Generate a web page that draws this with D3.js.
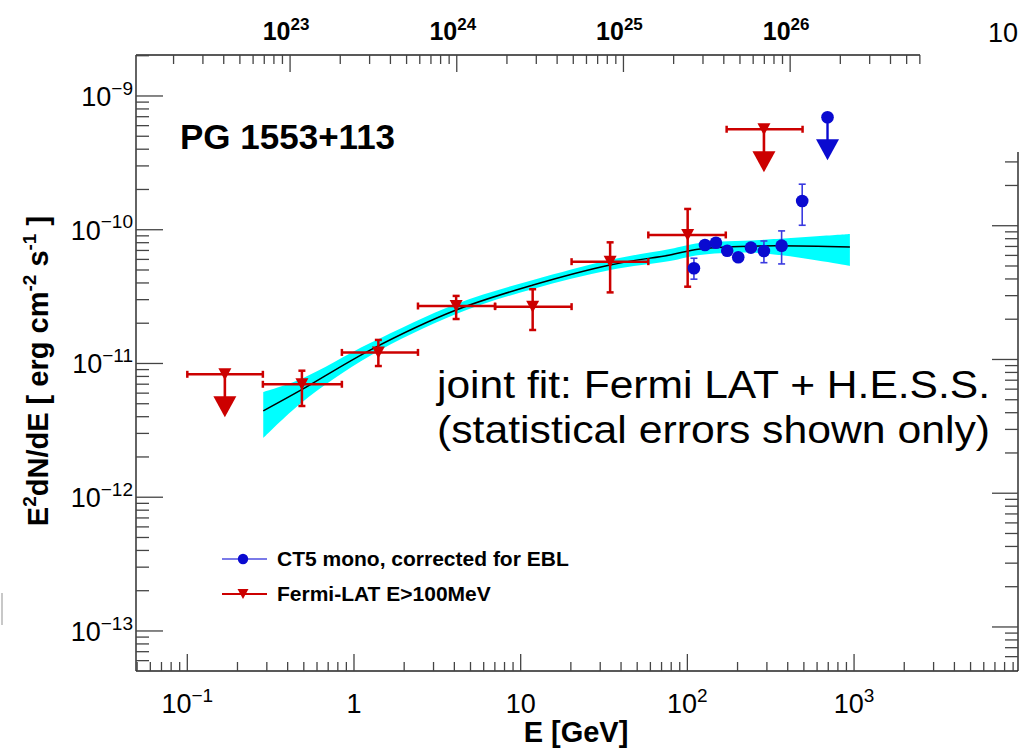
<!DOCTYPE html>
<html><head><meta charset="utf-8">
<script src="https://cdn.jsdelivr.net/npm/d3@7"></script>
<style>
html,body{margin:0;padding:0;background:#fff;}
svg{display:block;font-family:"Liberation Sans",Arial,Helvetica,sans-serif;}
</style></head><body>
<svg id="chart" width="1019" height="748"></svg>
<script>
// ---- Fermi-LAT (E > 100 MeV): energy bins in GeV, E^2 dN/dE in erg cm^-2 s^-1
const fermiE   = [0.168, 0.487, 1.40, 4.10, 11.8, 34.4, 100.4, 288];
const fermiElo = [0.100, 0.284, 0.846, 2.42, 7.02, 20.2, 58.3, 172];
const fermiEhi = [0.284, 0.846, 2.42, 7.02, 20.2, 58.3, 170, 491];
const fermiF   = [8.3e-12, 6.99e-12, 1.21e-11, 2.69e-11, 2.66e-11, 5.77e-11, 9.14e-11, 5.64e-10];
const fermiFlo = [null, 4.81e-12, 9.57e-12, 2.15e-11, 1.78e-11, 3.40e-11, 3.75e-11, null];
const fermiFhi = [null, 8.83e-12, 1.50e-11, 3.20e-11, 3.59e-11, 8.05e-11, 1.43e-10, null];
const fermiUL  = [true, false, false, false, false, false, false, true];

// ---- H.E.S.S. CT5 mono, EBL corrected
const hessE   = [109.5, 127.5, 148.4, 173.4, 201.9, 240.6, 287.9, 367.6, 488.5, 693];
const hessF   = [5.15e-11, 7.69e-11, 8.0e-11, 6.97e-11, 6.22e-11, 7.35e-11, 6.93e-11, 7.60e-11, 1.64e-10, 6.93e-10];
const hessFlo = [4.27e-11, 7.3e-11, 7.6e-11, 6.6e-11, 5.9e-11, 6.95e-11, 5.67e-11, 5.55e-11, 1.08e-10, null];
const hessFhi = [6.12e-11, 8.1e-11, 8.4e-11, 7.35e-11, 6.55e-11, 7.75e-11, 8.24e-11, 9.80e-11, 2.19e-10, null];
const hessUL  = [false, false, false, false, false, false, false, false, false, true];

// ---- joint fit curve with its statistical band
const fitE  = [0.2855, 0.4826, 1.25, 4.10, 11.87, 34.4, 78.6, 119, 272, 944];
const fitF  = [4.42e-12, 6.34e-12, 1.26e-11, 2.51e-11, 3.86e-11, 5.45e-11, 6.48e-11, 7.18e-11, 7.56e-11, 7.43e-11];
const fitLo = [2.77e-12, 5.07e-12, 1.14e-11, 2.34e-11, 3.61e-11, 5.00e-11, 5.83e-11, 6.47e-11, 6.70e-11, 5.36e-11];
const fitHi = [6.12e-12, 7.66e-12, 1.42e-11, 2.79e-11, 4.21e-11, 5.94e-11, 7.18e-11, 7.96e-11, 8.38e-11, 9.29e-11];

// ---- axis labels
const xTickVals  = [0.1, 1, 10, 100, 1000];
const xTickBase  = ["10", "1", "10", "10", "10"];
const xTickExp   = ["\u22121", "", "", "2", "3"];
const yTickVals  = [1e-9, 1e-10, 1e-11, 1e-12, 1e-13];
const yTickExp   = ["\u22129", "\u221210", "\u221211", "\u221212", "\u221213"];
const topTickVals = [1e23, 1e24, 1e25, 1e26];
const topTickExp  = ["23", "24", "25", "26"];
const GEV_TO_HZ = 2.418e23;

const RED = "#cc0000", BLUE = "#0a0ad0", BLUE_ERR = "#3a3ae0";

const svg = d3.select("#chart");
const L = 136, R = 1018, T = 55, B = 671, TOP_END = 920, RIGHT_TOP = 152;

const x = d3.scaleLog().domain([0.04923, 9627]).range([L, R]);
const y = d3.scaleLog().domain([5.02e-14, 2.025e-9]).range([B, T]);
const xTop = d3.scaleLog()
  .domain([x.invert(L) * GEV_TO_HZ, x.invert(TOP_END) * GEV_TO_HZ])
  .range([L, TOP_END]);

function logTicks(lo, hi) {
  const out = [];
  for (let e = Math.floor(Math.log10(lo)); e <= Math.ceil(Math.log10(hi)); e++) {
    for (let k = 1; k <= 9; k++) {
      const v = k * Math.pow(10, e);
      if (v >= lo * 1.0001 && v <= hi * 0.9999) out.push({v, major: k === 1});
    }
  }
  return out;
}

// ---- fit band and curve
const band = d3.area()
  .x((d, i) => x(fitE[i]))
  .y0((d, i) => y(fitLo[i]))
  .y1((d, i) => y(fitHi[i]))
  .curve(d3.curveCatmullRom.alpha(0.5));
svg.append("path").datum(fitE).attr("d", band).attr("fill", "#00ffff");
const fitLine = d3.line()
  .x((d, i) => x(fitE[i]))
  .y((d, i) => y(fitF[i]))
  .curve(d3.curveCatmullRom.alpha(0.5));
svg.append("path").datum(fitE).attr("d", fitLine)
  .attr("fill", "none").attr("stroke", "#000").attr("stroke-width", 1.5);

// ---- frame and ticks
const axisG = svg.append("g").attr("stroke", "#222").attr("stroke-width", 1.4);
axisG.append("line").attr("x1", L).attr("x2", TOP_END).attr("y1", T).attr("y2", T);
axisG.append("line").attr("x1", L).attr("x2", L).attr("y1", T).attr("y2", B);
axisG.append("line").attr("x1", L).attr("x2", R).attr("y1", B).attr("y2", B);
axisG.append("line").attr("x1", R).attr("x2", R).attr("y1", RIGHT_TOP).attr("y2", B);

const tickG = svg.append("g").attr("stroke", "#444").attr("stroke-width", 1.3);
logTicks(x.domain()[0], x.domain()[1]).forEach(t => {
  const px = x(t.v);
  tickG.append("line").attr("x1", px).attr("x2", px)
    .attr("y1", B).attr("y2", B - (t.major ? 17 : 9));
});
logTicks(xTop.domain()[0], xTop.domain()[1]).forEach(t => {
  const px = xTop(t.v);
  tickG.append("line").attr("x1", px).attr("x2", px)
    .attr("y1", T).attr("y2", T + (t.major ? 17 : 9));
});
logTicks(y.domain()[0], y.domain()[1]).forEach(t => {
  const py = y(t.v);
  tickG.append("line").attr("x1", L).attr("x2", L + (t.major ? 27 : 13))
    .attr("y1", py).attr("y2", py);
  const ry = py - 4;
  if (ry > RIGHT_TOP + 1 && ry < B - 1)
    tickG.append("line").attr("x1", R).attr("x2", R - (t.major ? 26 : 13))
      .attr("y1", ry).attr("y2", ry);
});

function powerLabel(g, px, py, base, exp, size, expSize, anchor, weight) {
  const t = g.append("text").attr("x", px).attr("y", py)
    .attr("text-anchor", anchor).attr("font-size", size)
    .attr("font-weight", weight).attr("fill", "#000");
  t.append("tspan").text(base);
  if (exp) t.append("tspan").attr("dy", -size * 0.42).attr("font-size", expSize).text(exp);
  return t;
}

const labG = svg.append("g");
xTickVals.forEach((v, i) => {
  powerLabel(labG, x(v), 713, xTickBase[i], xTickExp[i], 27, 19, "middle", "normal");
});
yTickVals.forEach((v, i) => {
  powerLabel(labG, 133, y(v) + 10, "10", yTickExp[i], 27, 19, "end", "normal");
});
topTickVals.forEach((v, i) => {
  powerLabel(labG, xTop(v) - 4, 40, "10", topTickExp[i], 25, 17, "middle", "bold");
});
labG.append("text").attr("x", 988).attr("y", 42).attr("font-size", 27).text("10");

// axis titles
labG.append("text").attr("x", 576).attr("y", 742).attr("text-anchor", "middle")
  .attr("font-size", 29).attr("font-weight", "bold").text("E [GeV]");
const yt = labG.append("text")
  .attr("transform", "translate(48,371) rotate(-90)")
  .attr("text-anchor", "middle").attr("font-size", 29).attr("font-weight", "bold");
yt.append("tspan").text("E");
yt.append("tspan").attr("dy", -12).attr("font-size", 19).text("2");
yt.append("tspan").attr("dy", 12).text("dN/dE [ erg cm");
yt.append("tspan").attr("dy", -12).attr("font-size", 19).text("-2");
yt.append("tspan").attr("dy", 12).text(" s");
yt.append("tspan").attr("dy", -12).attr("font-size", 19).text("-1");
yt.append("tspan").attr("dy", 12).text(" ]");

// source name and annotation
labG.append("text").attr("x", 180).attr("y", 149).attr("font-size", 35)
  .attr("font-weight", "bold").text("PG 1553+113");
labG.append("text").attr("x", 437).attr("y", 398).attr("font-size", 38)
  .attr("textLength", 553).attr("lengthAdjust", "spacingAndGlyphs")
  .text("joint fit: Fermi LAT + H.E.S.S.");
labG.append("text").attr("x", 437).attr("y", 443).attr("font-size", 38)
  .attr("textLength", 553).attr("lengthAdjust", "spacingAndGlyphs")
  .text("(statistical errors shown only)");

// ---- marker helpers
function downTri(g, cx, cy, w, h, color) {
  g.append("path")
    .attr("d", `M${cx - w / 2},${cy - h / 2}L${cx + w / 2},${cy - h / 2}L${cx},${cy + h / 2}Z`)
    .attr("fill", color);
}
function arrow(g, cx, cy, color, sw) {
  g.append("line").attr("x1", cx).attr("x2", cx).attr("y1", cy).attr("y2", cy + 24)
    .attr("stroke", color).attr("stroke-width", sw);
  g.append("path")
    .attr("d", `M${cx - 11.5},${cy + 22}L${cx + 11.5},${cy + 22}L${cx},${cy + 43}Z`)
    .attr("fill", color);
}

// ---- Fermi-LAT points
const fG = svg.append("g");
fermiE.forEach((e, i) => {
  const cx = x(e), cy = y(fermiF[i]);
  const x0 = x(fermiElo[i]), x1 = x(fermiEhi[i]);
  const st = g => g.attr("stroke", RED).attr("stroke-width", 2.5);
  st(fG.append("line").attr("x1", x0).attr("x2", x1).attr("y1", cy).attr("y2", cy));
  st(fG.append("line").attr("x1", x0).attr("x2", x0).attr("y1", cy - 3.5).attr("y2", cy + 3.5));
  st(fG.append("line").attr("x1", x1).attr("x2", x1).attr("y1", cy - 3.5).attr("y2", cy + 3.5));
  if (fermiUL[i]) {
    arrow(fG, cx, cy, RED, 2.6);
  } else {
    const y0 = y(fermiFhi[i]), y1 = y(fermiFlo[i]);
    st(fG.append("line").attr("x1", cx).attr("x2", cx).attr("y1", y0).attr("y2", y1));
    st(fG.append("line").attr("x1", cx - 3.5).attr("x2", cx + 3.5).attr("y1", y0).attr("y2", y0));
    st(fG.append("line").attr("x1", cx - 3.5).attr("x2", cx + 3.5).attr("y1", y1).attr("y2", y1));
  }
  downTri(fG, cx, cy, 13, 12, RED);
});

// ---- H.E.S.S. points
const hG = svg.append("g");
hessE.forEach((e, i) => {
  const cx = x(e), cy = y(hessF[i]);
  if (hessUL[i]) {
    arrow(hG, cx, cy, BLUE, 2.4);
  } else {
    const y0 = y(hessFhi[i]), y1 = y(hessFlo[i]);
    const st = g => g.attr("stroke", BLUE_ERR).attr("stroke-width", 1.6);
    st(hG.append("line").attr("x1", cx).attr("x2", cx).attr("y1", y0).attr("y2", y1));
    st(hG.append("line").attr("x1", cx - 3.5).attr("x2", cx + 3.5).attr("y1", y0).attr("y2", y0));
    st(hG.append("line").attr("x1", cx - 3.5).attr("x2", cx + 3.5).attr("y1", y1).attr("y2", y1));
  }
  hG.append("circle").attr("cx", cx).attr("cy", cy).attr("r", 6.3).attr("fill", BLUE);
});

// ---- legend
const lg = svg.append("g");
lg.append("line").attr("x1", 222).attr("x2", 267).attr("y1", 559).attr("y2", 559)
  .attr("stroke", "#7a7ae8").attr("stroke-width", 2.2);
lg.append("circle").attr("cx", 243).attr("cy", 559).attr("r", 5.2).attr("fill", BLUE);
lg.append("text").attr("x", 277).attr("y", 566).attr("font-size", 21)
  .attr("font-weight", "bold").text("CT5 mono, corrected for EBL");
lg.append("line").attr("x1", 222).attr("x2", 267).attr("y1", 594).attr("y2", 594)
  .attr("stroke", RED).attr("stroke-width", 2.2);
downTri(lg, 243, 594, 11, 10, RED);
lg.append("text").attr("x", 277).attr("y", 601).attr("font-size", 21)
  .attr("font-weight", "bold").text("Fermi-LAT E>100MeV");

// stray edge mark at the left margin
svg.append("line").attr("x1", 2).attr("x2", 2).attr("y1", 593).attr("y2", 625)
  .attr("stroke", "#c8c8c8").attr("stroke-width", 2);
</script>
</body></html>
